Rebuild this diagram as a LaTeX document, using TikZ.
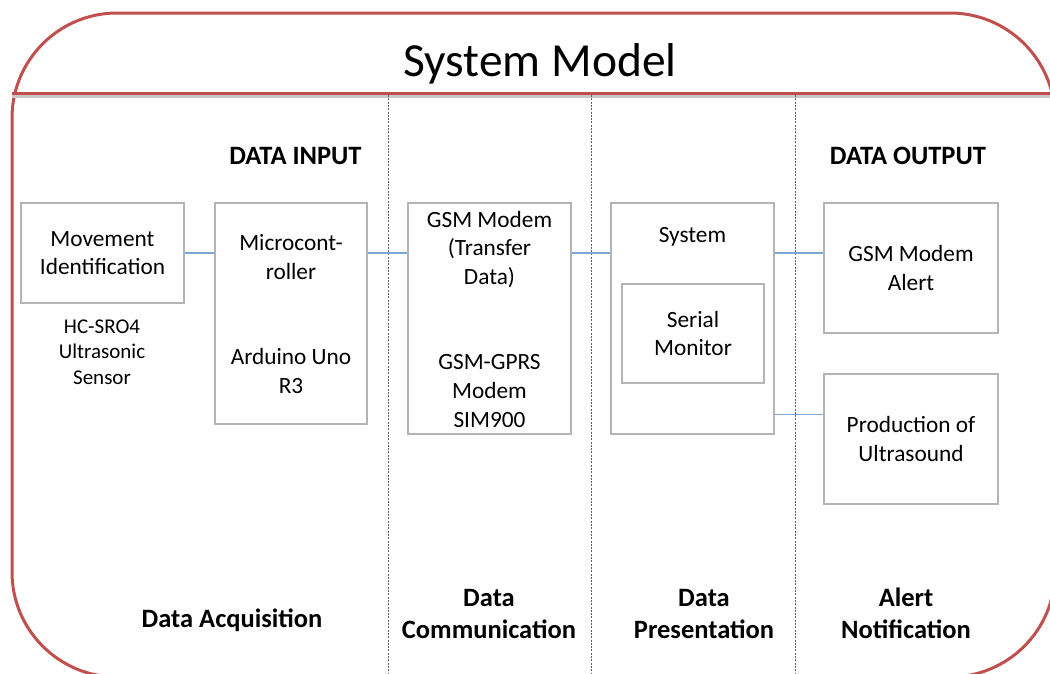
\documentclass[tikz,border=0pt]{standalone}
\usepackage{fontspec}
\setmainfont{Carlito}
\definecolor{bordred}{HTML}{C0504D}
\definecolor{linkblue}{HTML}{7FA6D8}
\definecolor{boxgray}{HTML}{B4B4B4}
\definecolor{sepgray}{HTML}{606060}
\begin{document}
\begin{tikzpicture}[x=1pt,y=-1pt,
  box/.style={draw=boxgray, line width=1.2pt, fill=white, inner sep=0pt, align=center,
    font=\fontsize{23.3}{28.7}\selectfont},
  txt/.style={inner sep=0pt, align=center, font=\fontsize{23.3}{28.7}\selectfont},
  small/.style={inner sep=0pt, align=center, font=\fontsize{21}{25.5}\selectfont},
  head/.style={inner sep=0pt, align=center, font=\fontsize{26.5}{32}\selectfont\bfseries},
  conn/.style={draw=linkblue, line width=1.2pt},
  sep/.style={draw=sepgray, line width=1pt, dash pattern=on 2pt off 1.3pt},
  frame/.style={draw=bordred, line width=3pt}
]
\useasboundingbox (0,0) rectangle (1050,673);
\clip (0,0) rectangle (1050,673);

% outer frame
\draw[frame, rounded corners=105pt] (12,13) rectangle (1055,677);
\draw[black!22, line width=3pt] (12,96.5) -- (1050,96.5);
\draw[frame] (12,93) -- (1050,93);

% title
\node[inner sep=0pt, anchor=base, font=\fontsize{47.5}{56}\selectfont] (title) at (540,76) {System Model};

% separators
\coordinate (s1t) at (388,95); \coordinate (s1b) at (388,673);
\coordinate (s2t) at (591,95); \coordinate (s2b) at (591,673);
\coordinate (s3t) at (795,95); \coordinate (s3b) at (795,673);
\draw[sep] (s1t) -- (s1b);
\draw[sep] (s2t) -- (s2b);
\draw[sep] (s3t) -- (s3b);

% headings
\node[head, anchor=base] (din) at (295.5,164) {DATA INPUT};
\node[head, anchor=base] (dout) at (908,164) {DATA OUTPUT};
\node[head, anchor=base] (acq) at (232,627) {Data Acquisition};
\node[head] (com) at (489,613.5) {Data\\Communication};
\node[head] (pre) at (704,613.5) {Data\\Presentation};
\node[head] (ale) at (906,613) {Alert\\Notification};

% boxes
\node[box, minimum width=163pt, minimum height=100pt] (move) at (102.5,253) {Movement\\Identification};
\node[small] (hc) at (102,352) {HC-SRO4\\Ultrasonic\\Sensor};

\node[box, minimum width=152pt, minimum height=221pt] (micro) at (291,313.5) {};
\node[txt] (microt) at (291,257) {Microcont-\\roller};
\node[txt] (ard) at (291,371) {Arduino Uno\\R3};

\node[box, minimum width=163pt, minimum height=231pt] (gsm) at (489.5,318.5) {};
\node[txt] (gsmt) at (489.5,249.5) {GSM Modem\\(Transfer\\Data)};
\node[txt] (gprs) at (489.5,391) {GSM-GPRS\\Modem\\SIM900};

\node[box, minimum width=163pt, minimum height=231pt] (sys) at (692.5,318.5) {};
\node[txt, anchor=base] (syst) at (692.5,242) {System};
\node[box, minimum width=142pt, minimum height=99pt] (serial) at (693,333.5) {Serial\\Monitor};

\node[box, minimum width=174pt, minimum height=130pt] (alert) at (911,268) {GSM Modem\\Alert};
\node[box, minimum width=174pt, minimum height=130pt] (prod) at (911,439) {Production of\\Ultrasound};

% connectors
\draw[conn] (move.east) -- (move.east -| micro.west);
\draw[conn] (micro.east |- move.east) -- (move.east -| gsm.west);
\draw[conn] (gsm.east |- move.east) -- (move.east -| sys.west);
\draw[conn] (sys.east |- move.east) -- (move.east -| alert.west);
\path (sys.south east) ++(0,-20) coordinate (sysout);
\draw[conn] (sysout) -- (sysout -| prod.west);
\end{tikzpicture}
\end{document}
